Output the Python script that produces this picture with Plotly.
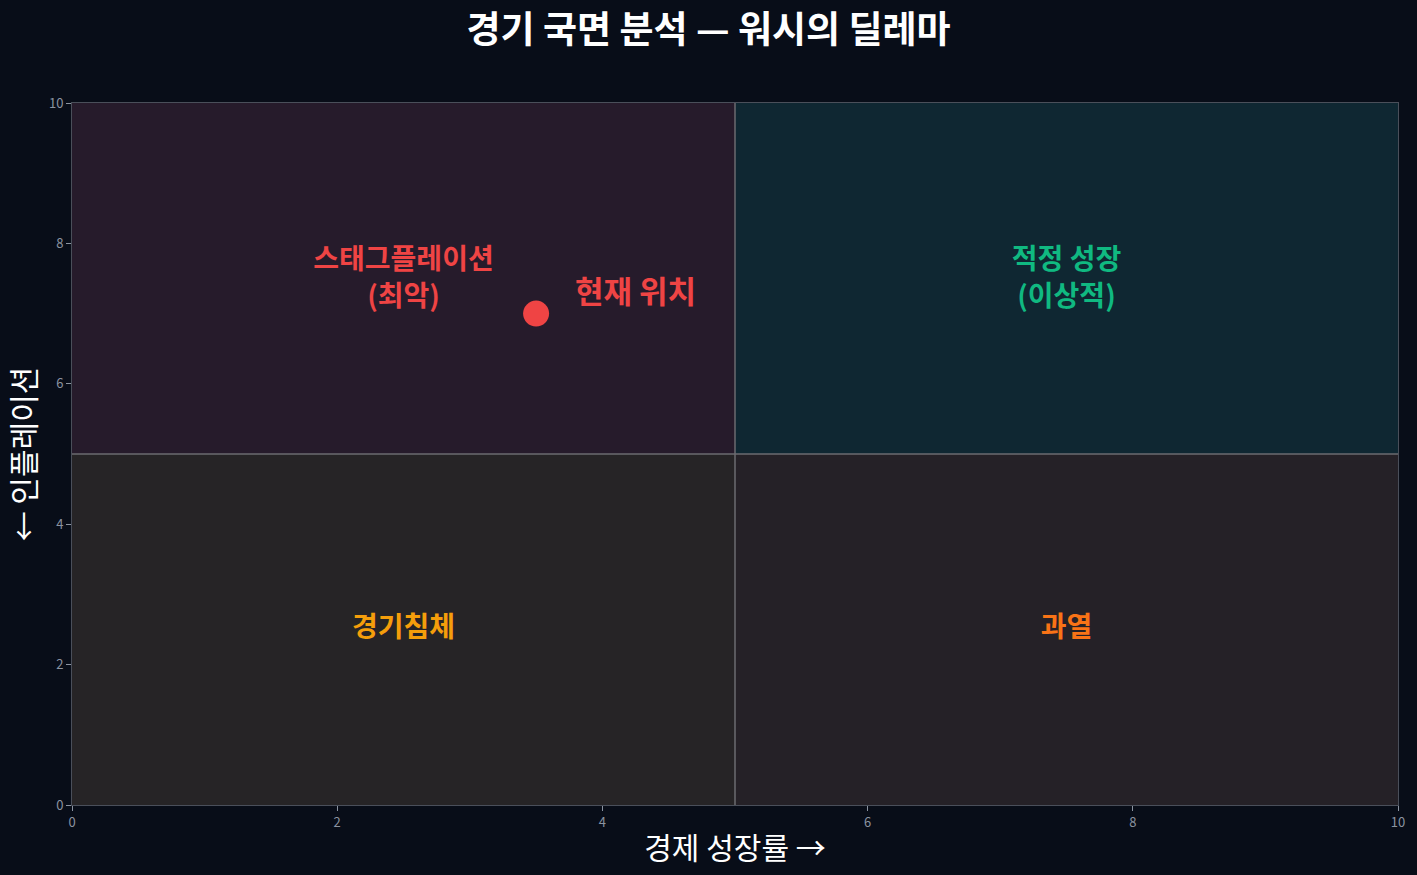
import plotly.graph_objects as go

# quadrant boxes: x0, x1, y0, y1, fill
quad_x0 = [0, 5, 0, 5]
quad_x1 = [5, 10, 5, 10]
quad_y0 = [5, 5, 0, 0]
quad_y1 = [10, 10, 5, 5]
quad_fill = ['#261b2b', '#0f2732', '#262426', '#252127']

# quadrant labels
label_text = ['스태그플레이션<br>(최악)', '적정 성장<br>(이상적)', '경기침체', '과열']
label_x = [2.5, 7.5, 2.5, 7.5]
label_y = [7.47, 7.47, 2.5, 2.5]
label_color = ['#ef4444', '#10b981', '#f59e0b', '#f97316']

# current position
now_x = [3.5]
now_y = [7.0]
now_label = '현재 위치'

tick_vals = [0, 2, 4, 6, 8, 10]

font = 'Noto Sans CJK KR'

fig = go.Figure()

for i in range(len(quad_x0)):
  fig.add_shape(type='rect', x0=quad_x0[i], x1=quad_x1[i], y0=quad_y0[i], y1=quad_y1[i],
                xref='x', yref='y', fillcolor=quad_fill[i], line_width=0, layer='below')

# divider lines
fig.add_shape(type='line', x0=5, x1=5, y0=0, y1=10, xref='x', yref='y',
              line=dict(color='#6b6b70', width=1.5))
fig.add_shape(type='line', x0=0, x1=10, y0=5, y1=5, xref='x', yref='y',
              line=dict(color='#6b6b70', width=1.5))

fig.add_trace(go.Scatter(x=label_x, y=label_y, mode='text', text=label_text,
                         textfont=dict(family=font, size=28, color=label_color, weight='bold'),
                         hoverinfo='skip', showlegend=False))

fig.add_trace(go.Scatter(x=now_x, y=now_y, mode='markers',
                         marker=dict(color='#ef4444', size=26),
                         showlegend=False))

fig.add_annotation(x=now_x[0] + 0.28, y=now_y[0] + 0.34, text=now_label, showarrow=False,
                   xanchor='left', yanchor='middle',
                   font=dict(family=font, size=31, color='#ef4444', weight='bold'))

fig.update_layout(
  width=1417, height=875,
  paper_bgcolor='#080d18', plot_bgcolor='#080d18',
  margin=dict(l=72, r=16, t=103, b=70),
  title=dict(text='<b>경기 국면 분석 — 워시의 딜레마</b>', x=0.5, xanchor='center', y=0.966, yanchor='middle',
             font=dict(family=font, size=37, color='white')),
  font=dict(family=font),
  showlegend=False,
)

fig.update_xaxes(range=[0, 10], tickvals=tick_vals, showgrid=False, zeroline=False,
                 showline=True, linecolor='#4a4f5a', mirror=True, ticks='outside', ticklen=5,
                 tickcolor='#8b93a0', tickfont=dict(size=13, color='#8b93a0'),
                 title=dict(text='경제 성장률 →', font=dict(size=30, color='white'), standoff=8))
fig.update_yaxes(range=[0, 10], tickvals=tick_vals, showgrid=False, zeroline=False,
                 showline=True, linecolor='#4a4f5a', mirror=True, ticks='outside', ticklen=5,
                 tickcolor='#8b93a0', tickfont=dict(size=13, color='#8b93a0'),
                 title=dict(text='← 인플레이션', font=dict(size=30, color='white'), standoff=10))

fig.write_html("out.html", config={'displayModeBar': False},
               post_script="document.body.style.margin='0';document.body.style.background='#080d18';")
